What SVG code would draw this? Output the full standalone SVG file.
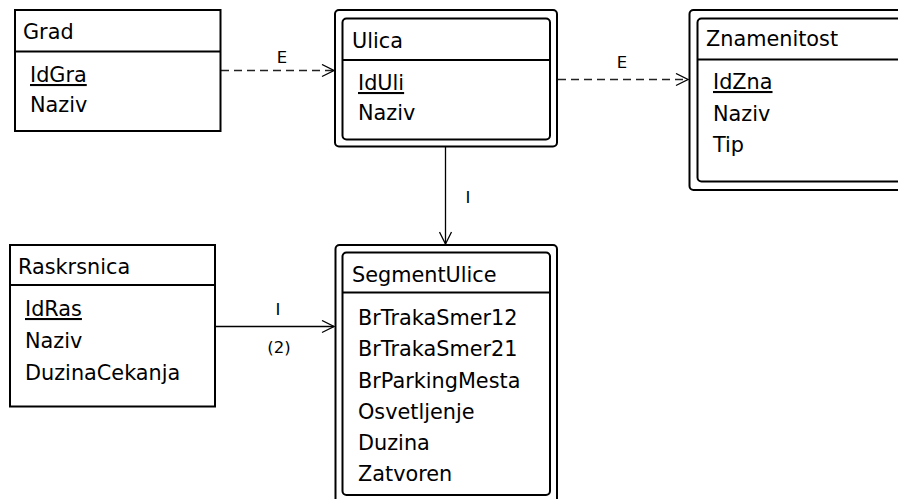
<svg xmlns="http://www.w3.org/2000/svg" width="898" height="499" viewBox="0 0 898 499">
<defs>
<style>
text{font-family:"DejaVu Sans","Liberation Sans",sans-serif;font-size:20.8px;fill:#000}
.lbl{font-size:16.5px}
.box{fill:#fff;stroke:#000;stroke-width:2}
.div{stroke:#000;stroke-width:2}
.pk{text-decoration:underline}
.con{fill:none;stroke:#000;stroke-width:1.3}
.dash{stroke:#222;stroke-dasharray:8 5}
</style>
<marker id="arr" viewBox="0 0 14 14" refX="13" refY="7" markerWidth="14" markerHeight="14" markerUnits="userSpaceOnUse" orient="auto">
<path d="M1,1 L13,7 L1,13" fill="none" stroke="#000" stroke-width="1.3"/>
</marker>
</defs>
<rect width="898" height="499" fill="#fff"/>
<g id="connectors">
<line class="con dash" x1="221" y1="70.5" x2="334" y2="70.5" marker-end="url(#arr)"/>
<text class="lbl" x="282" y="63" text-anchor="middle">E</text>
<line class="con dash" x1="558" y1="79.5" x2="688" y2="79.5" marker-end="url(#arr)"/>
<text class="lbl" x="622" y="68" text-anchor="middle">E</text>
<line class="con" x1="445.5" y1="147" x2="445.5" y2="244" marker-end="url(#arr)"/>
<text class="lbl" x="468" y="203" text-anchor="middle">I</text>
<line class="con" x1="216" y1="326.5" x2="334" y2="326.5" marker-end="url(#arr)"/>
<text class="lbl" x="278" y="315" text-anchor="middle">I</text>
<text class="lbl" x="279" y="353" text-anchor="middle">(2)</text>
</g>
<g id="grad">
<rect class="box" x="15" y="10" width="205.5" height="121"/>
<line class="div" x1="15" y1="51.5" x2="220.5" y2="51.5"/>
<text x="23" y="39">Grad</text>
<text class="pk" x="30" y="82">IdGra</text>
<text x="30" y="112">Naziv</text>
</g>
<g id="ulica">
<rect class="box" x="335" y="10" width="222" height="136.5" rx="4"/>
<rect class="box" x="342.5" y="18.5" width="207.5" height="121" rx="4"/>
<line class="div" x1="342.5" y1="60" x2="550" y2="60"/>
<text x="352" y="48">Ulica</text>
<text class="pk" x="358" y="90">IdUli</text>
<text x="358" y="120">Naziv</text>
</g>
<g id="znamenitost">
<rect class="box" x="689.5" y="10" width="230" height="180" rx="4"/>
<rect class="box" x="697.5" y="18.5" width="215" height="163" rx="4"/>
<line class="div" x1="697.5" y1="59.5" x2="912" y2="59.5"/>
<text x="706" y="46">Znamenitost</text>
<text class="pk" x="713" y="89">IdZna</text>
<text x="713" y="120.5">Naziv</text>
<text x="713" y="151.5">Tip</text>
</g>
<g id="raskrsnica">
<rect class="box" x="10" y="245" width="205" height="161.5"/>
<line class="div" x1="10" y1="285" x2="215" y2="285"/>
<text x="18" y="274">Raskrsnica</text>
<text class="pk" x="25" y="316">IdRas</text>
<text x="25" y="348">Naziv</text>
<text x="25" y="380">DuzinaCekanja</text>
</g>
<g id="segmentulice">
<rect class="box" x="335.5" y="245" width="221.5" height="270" rx="4"/>
<rect class="box" x="342.5" y="252.5" width="207.5" height="242.5" rx="4"/>
<line class="div" x1="342.5" y1="292.5" x2="550" y2="292.5"/>
<text x="352" y="281.5">SegmentUlice</text>
<text x="358" y="325">BrTrakaSmer12</text>
<text x="358" y="356">BrTrakaSmer21</text>
<text x="358" y="387.5">BrParkingMesta</text>
<text x="358" y="418.5">Osvetljenje</text>
<text x="358" y="450">Duzina</text>
<text x="358" y="481">Zatvoren</text>
</g>
</svg>
